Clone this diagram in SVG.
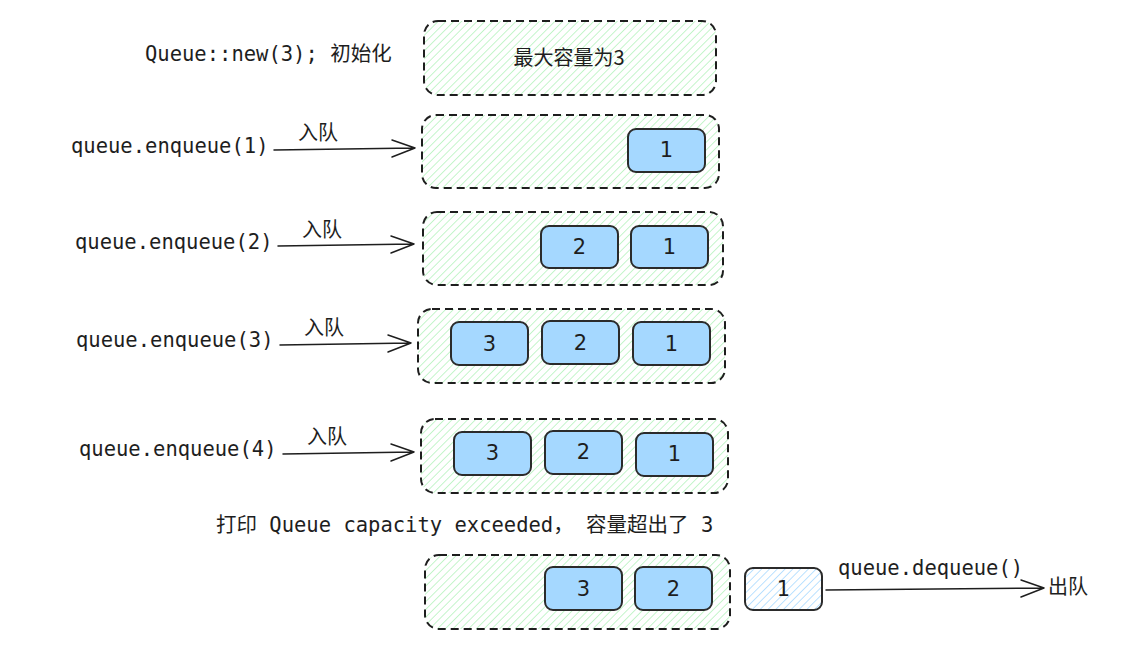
<svg xmlns="http://www.w3.org/2000/svg" width="1136" height="656" viewBox="0 0 1136 656">
<style>
.box{fill:url(#hg);stroke:#1e1e1e;stroke-width:2;stroke-dasharray:8 5}
.nd{fill:#a5d8ff;stroke:#2b2b2b;stroke-width:2}
.ndh{fill:url(#hb);stroke:#2b2b2b;stroke-width:2}
.num{font-family:"DejaVu Sans","Liberation Sans",sans-serif;font-size:21px;fill:#1e1e1e;text-anchor:middle}
.code{font-family:"DejaVu Sans Mono","Noto Sans CJK SC",monospace;font-size:20.5px;fill:#1e1e1e}
.cn{font-family:"Noto Sans CJK SC",sans-serif;font-size:20px;fill:#1e1e1e}
.ar{fill:none;stroke:#1e1e1e;stroke-width:1.5;stroke-linecap:round;stroke-linejoin:round}
</style>
<defs>
<pattern id="hg" width="5.5" height="5.5" patternUnits="userSpaceOnUse" patternTransform="rotate(45)">
<rect width="5.5" height="5.5" fill="#fff"/>
<line x1="0" y1="0" x2="0" y2="5.5" stroke="#b2f2bb" stroke-width="1.5"/>
</pattern>
<pattern id="hb" width="5.5" height="5.5" patternUnits="userSpaceOnUse" patternTransform="rotate(45)">
<rect width="5.5" height="5.5" fill="#fff"/>
<line x1="0" y1="0" x2="0" y2="5.5" stroke="#a5d8ff" stroke-width="1.5"/>
</pattern>
</defs>
<rect width="1136" height="656" fill="#fff"/>

<g id="labels">
<text class="code" x="145" y="61">Queue::new(3); 初始化</text>
<text class="code" x="71" y="153">queue.enqueue(1)</text>
<text class="code" x="75" y="249">queue.enqueue(2)</text>
<text class="code" x="76" y="347">queue.enqueue(3)</text>
<text class="code" x="79" y="456">queue.enqueue(4)</text>
<text class="code" x="216" y="532">打印 Queue capacity exceeded， 容量超出了 3</text>
</g>

<g id="init">
<rect class="box" x="424" y="21" width="292" height="74" rx="14"/>
<text class="cn" x="569" y="65" text-anchor="middle">最大容量为3</text>
</g>

<g id="q1">
<rect class="box" x="422" y="115" width="297" height="73" rx="14"/>
<rect class="nd" x="628" y="129" width="77" height="43" rx="8"/>
<text class="num" x="666.5" y="157">1</text>
</g>

<g id="q2">
<rect class="box" x="423" y="212" width="300" height="73" rx="14"/>
<rect class="nd" x="541" y="226" width="77" height="42" rx="8"/>
<text class="num" x="579.5" y="254">2</text>
<rect class="nd" x="631" y="226" width="77" height="42" rx="8"/>
<text class="num" x="669.5" y="254">1</text>
</g>

<g id="q3">
<rect class="box" x="418" y="309" width="307" height="74" rx="14"/>
<rect class="nd" x="451" y="322" width="77" height="43" rx="8"/>
<text class="num" x="489.5" y="351">3</text>
<rect class="nd" x="542" y="321" width="77" height="43" rx="8"/>
<text class="num" x="580.5" y="350">2</text>
<rect class="nd" x="633" y="322" width="77" height="43" rx="8"/>
<text class="num" x="671.5" y="351">1</text>
</g>

<g id="q4">
<rect class="box" x="421" y="419" width="307" height="74" rx="14"/>
<rect class="nd" x="454" y="432" width="77" height="43" rx="8"/>
<text class="num" x="492.5" y="460">3</text>
<rect class="nd" x="545" y="431" width="77" height="43" rx="8"/>
<text class="num" x="583.5" y="459">2</text>
<rect class="nd" x="636" y="433" width="77" height="43" rx="8"/>
<text class="num" x="674.5" y="461">1</text>
</g>

<g id="q5">
<rect class="box" x="425" y="555" width="305" height="74" rx="14"/>
<rect class="nd" x="545" y="567" width="77" height="43" rx="8"/>
<text class="num" x="583.5" y="596">3</text>
<rect class="nd" x="635" y="567" width="77" height="43" rx="8"/>
<text class="num" x="673.5" y="596">2</text>
</g>

<g id="out">
<rect class="ndh" x="745" y="568" width="77" height="42" rx="8"/>
<text class="num" x="783.5" y="596">1</text>
</g>

<g id="connectors">
<path class="ar" d="M274 150 L415 148 M392 140 L415 148 L392 157"/>
<text class="cn" x="298" y="140">入队</text>
<path class="ar" d="M278 246 L414 244 M391 236 L414 244 L391 253"/>
<text class="cn" x="302" y="237">入队</text>
<path class="ar" d="M280 345 L411 343 M388 335 L411 343 L388 352"/>
<text class="cn" x="304" y="335">入队</text>
<path class="ar" d="M283 454 L414 452 M391 444 L414 452 L391 461"/>
<text class="cn" x="307" y="444">入队</text>
<path class="ar" d="M826 590 L1044 588 M1021 580 L1044 588 L1021 597"/>
<text class="code" x="838" y="575">queue.dequeue()</text>
<text class="cn" x="1048" y="594">出队</text>
</g>
</svg>
